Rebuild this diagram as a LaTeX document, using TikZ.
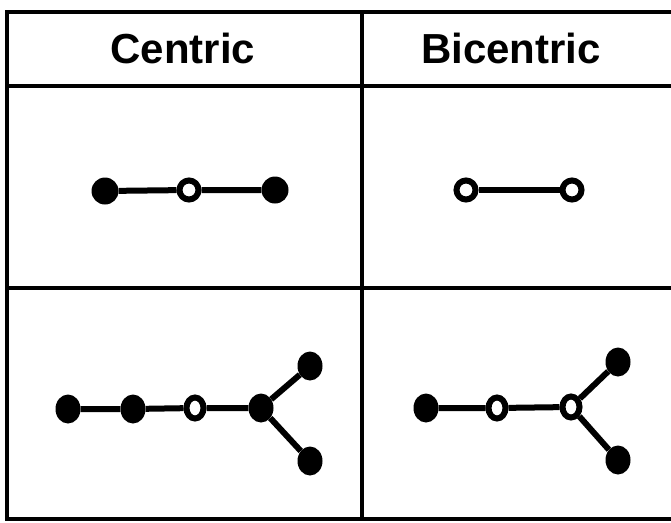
\documentclass[tikz,border=0pt]{standalone}
\usepackage{fontspec}
\setmainfont{Liberation Sans}
\usetikzlibrary{shapes.geometric}
\tikzset{
  grid line/.style={line width=4pt, line cap=rect},
  full/.style={circle, fill=black, inner sep=0pt, minimum size=27pt},
  fullov/.style={ellipse, fill=black, inner sep=0pt, minimum width=25pt, minimum height=29pt},
  hollow/.style={circle, draw=black, line width=6pt, fill=white, inner sep=0pt, minimum size=19pt},
  hollowov/.style={ellipse, draw=black, line width=6pt, fill=white, inner sep=0pt, minimum width=17pt, minimum height=21pt},
  bond/.style={line width=6pt},
  head/.style={font=\fontsize{42}{46}\selectfont\bfseries, inner sep=0pt}
}
\begin{document}
\begin{tikzpicture}[x=1pt,y=-1pt]
\useasboundingbox (0,0) rectangle (671,522);
% table
\draw[grid line] (7,519) -- (7,12) -- (673,12);
\draw[grid line] (7,86) -- (673,86);
\draw[grid line] (7,288) -- (673,288);
\draw[grid line] (7,519) -- (673,519);
\draw[grid line] (362,12) -- (362,519);
% headers
\node[head] (hc) at (183,48) {Centric};
\node[head] (hb) at (511,48) {Bicentric};
% row 1 centric
\node[full] (a1) at (105,191) {};
\node[hollow] (a2) at (189,190) {};
\node[full] (a3) at (275,190) {};
\draw[bond] (a1) -- (a2) (a2) -- (a3);
% row 1 bicentric
\node[hollow] (b1) at (466,190) {};
\node[hollow] (b2) at (572,190) {};
\draw[bond] (b1) -- (b2);
% row 2 centric
\node[fullov] (c1) at (68,409) {};
\node[fullov] (c2) at (133,409) {};
\node[hollowov] (c3) at (195,408) {};
\node[fullov] (c4) at (261,408) {};
\node[fullov] (c5) at (310,366) {};
\node[fullov] (c6) at (310,461) {};
\draw[bond] (c1) -- (c2) (c2) -- (c3) (c3) -- (c4) (c4) -- (c5) (c4) -- (c6);
% row 2 bicentric
\node[fullov] (d1) at (426,408) {};
\node[hollowov] (d2) at (497,408) {};
\node[hollowov] (d3) at (571,407) {};
\node[fullov] (d4) at (618,362) {};
\node[fullov] (d5) at (618,460) {};
\draw[bond] (d1) -- (d2) (d2) -- (d3) (d3) -- (d4) (d3) -- (d5);
\end{tikzpicture}
\end{document}
